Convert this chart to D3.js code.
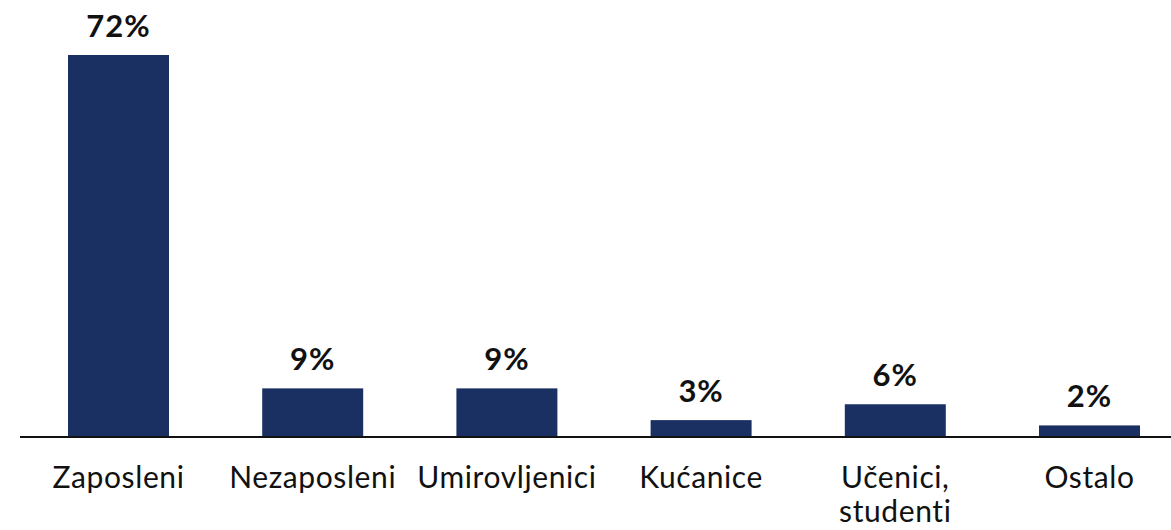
<!DOCTYPE html>
<html>
<head>
<meta charset="utf-8">
<script src="https://cdnjs.cloudflare.com/ajax/libs/d3/7.8.5/d3.min.js"></script>
<style>
  body { margin: 0; background: #fff; }
  text { font-family: Lato, "Noto Sans", sans-serif; fill: #111; }
  .valueLabel { font-weight: bold; font-size: 31px; letter-spacing: 1px; }
  .catLabel { font-size: 30px; letter-spacing: 0.6px; }
</style>
</head>
<body>
<div id="chart"></div>
<script>
var categories = [["Zaposleni"], ["Nezaposleni"], ["Umirovljenici"], ["Kućanice"], ["Učenici,", "studenti"], ["Ostalo"]];
var values = [72, 9, 9, 3, 6, 2];
var PERCENT = function(v){ return v + "%"; };

var width = 1171;
var height = 530;
var baseline = 436;

var svg = d3.select("#chart").append("svg")
  .attr("width", width)
  .attr("height", height);

var x = d3.scaleBand()
  .domain(d3.range(values.length))
  .range([21.4, 1186.6])
  .paddingInner(0.48)
  .paddingOuter(0.24);

var y = d3.scaleLinear()
  .domain([0, 72])
  .range([baseline, 55]);

svg.selectAll(".bar")
  .data(values)
  .enter().append("rect")
    .attr("class", "bar")
    .attr("x", function(d, i){ return x(i); })
    .attr("y", function(d){ return y(d); })
    .attr("width", x.bandwidth())
    .attr("height", function(d){ return baseline - y(d); })
    .attr("fill", "#1a2f62");

svg.append("line")
  .attr("x1", 20)
  .attr("x2", width)
  .attr("y1", baseline + 1)
  .attr("y2", baseline + 1)
  .attr("stroke", "#111")
  .attr("stroke-width", 2);

svg.selectAll(".valueLabel")
  .data(values)
  .enter().append("text")
    .attr("class", "valueLabel")
    .attr("text-anchor", "middle")
    .attr("x", function(d, i){ return x(i) + x.bandwidth() / 2; })
    .attr("y", function(d){ return y(d) - 18; })
    .text(PERCENT);

var cat = svg.selectAll(".catLabel")
  .data(categories)
  .enter().append("text")
    .attr("class", "catLabel")
    .attr("text-anchor", "middle")
    .attr("x", function(d, i){ return x(i) + x.bandwidth() / 2; })
    .attr("y", 488);

cat.selectAll("tspan")
  .data(function(d){ return d; })
  .enter().append("tspan")
    .attr("x", function(){ return d3.select(this.parentNode).attr("x"); })
    .attr("dy", function(d, j){ return j === 0 ? 0 : 34; })
    .text(function(d){ return d; });
</script>
</body>
</html>
